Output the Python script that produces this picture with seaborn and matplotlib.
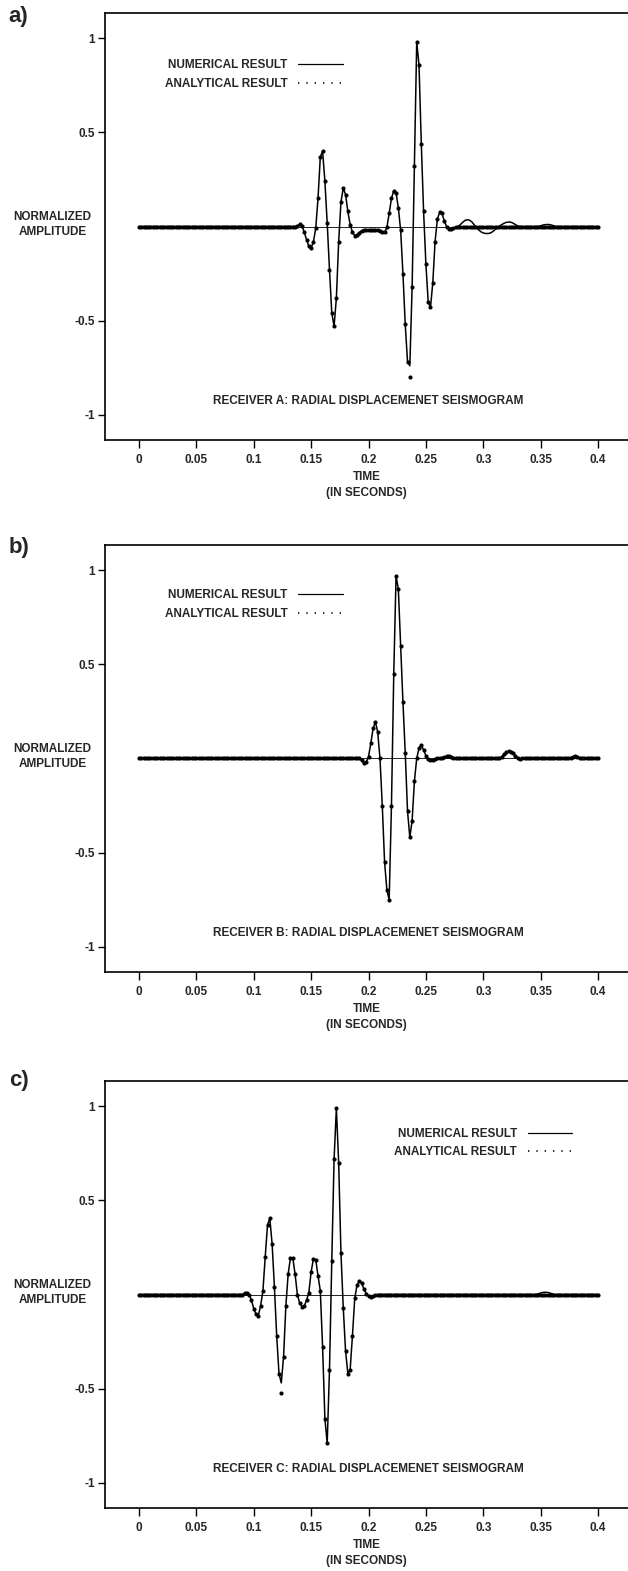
import numpy as np
import seaborn as sns
import matplotlib.pyplot as plt
from matplotlib.lines import Line2D

# sampling instants of the seismograms, seconds
time_s = np.round(np.arange(0, 0.4001, 0.002), 3)

# receiver A, normalized amplitude (t = 0.136 ... 0.278)
wave_a = [0.0, 0.003, 0.012, 0.005, -0.03, -0.07, -0.105, -0.115, -0.08, -0.01,
          0.15, 0.37, 0.40, 0.24, 0.02, -0.23, -0.46, -0.53, -0.38, -0.08,
          0.13, 0.205, 0.17, 0.08, 0.01, -0.03, -0.048, -0.045, -0.032, -0.022,
          -0.02, -0.02, -0.02, -0.02, -0.02, -0.02, -0.02, -0.022, -0.028, -0.03,
          -0.005, 0.07, 0.15, 0.19, 0.18, 0.10, -0.02, -0.25, -0.52, -0.72,
          -0.74, -0.32, 0.32, 0.98, 0.86, 0.44, 0.08, -0.20, -0.40, -0.43,
          -0.30, -0.08, 0.04, 0.075, 0.07, 0.03, 0.0, -0.012, -0.015, -0.01,
          -0.005, 0.0]
# numerical coda (t = 0.280 ... 0.400)
coda_a = ([0.01, 0.022, 0.032, 0.036, 0.034, 0.025, 0.01, -0.005, -0.018, -0.028,
           -0.034, -0.037, -0.037, -0.035, -0.028, -0.018, -0.008, 0.002, 0.01, 0.017,
           0.022, 0.024, 0.023, 0.018, 0.01, 0.003, 0.0]
          + [0.0] * 8
          + [0.004, 0.008, 0.01, 0.011, 0.01, 0.007, 0.003]
          + [0.0] * 19)
num_a = [0.0] * 68 + wave_a + coda_a
ana_a = [0.0] * 68 + wave_a + [0.0] * 61
off_t_a = [0.236]
off_amp_a = [-0.80]

# receiver B (t = 0.192 ... 0.260)
wave_b = [0.0, -0.01, -0.025, -0.02, 0.01, 0.08, 0.16, 0.195, 0.14, 0.0,
          -0.25, -0.55, -0.70, -0.75, -0.25, 0.45, 0.97, 0.90, 0.60, 0.30,
          0.03, -0.28, -0.42, -0.33, -0.12, 0.0, 0.055, 0.072, 0.045, 0.015,
          -0.005, -0.01, -0.008, -0.004, 0.0]
coda_b = ([0.0, 0.003, 0.007, 0.011, 0.012, 0.01, 0.005, 0.0]
          + [0.0] * 19
          + [0.01, 0.022, 0.033, 0.038, 0.036, 0.028, 0.015, 0.004, -0.002, 0.0]
          + [0.0] * 20
          + [0.005, 0.01, 0.012, 0.01, 0.005]
          + [0.0] * 8)
num_b = [0.0] * 96 + wave_b + coda_b
ana_b = [0.0] * 96 + wave_b + coda_b
off_t_b = []
off_amp_b = []

# receiver C (t = 0.090 ... 0.208)
wave_c = [0.0, 0.006, 0.01, 0.0, -0.03, -0.075, -0.105, -0.112, -0.06, 0.02,
          0.20, 0.37, 0.405, 0.27, 0.04, -0.22, -0.42, -0.47, -0.33, -0.06,
          0.11, 0.195, 0.195, 0.11, 0.0, -0.045, -0.064, -0.062, -0.03, 0.01,
          0.12, 0.19, 0.185, 0.10, 0.02, -0.28, -0.66, -0.79, -0.40, 0.18,
          0.72, 0.99, 0.70, 0.22, -0.07, -0.30, -0.42, -0.40, -0.22, -0.02,
          0.05, 0.072, 0.06, 0.03, 0.005, -0.01, -0.012, -0.01, -0.005, 0.0]
coda_c = [0.0] * 69 + [0.004, 0.008, 0.011, 0.012, 0.011, 0.008, 0.004] + [0.0] * 20
num_c = [0.0] * 45 + wave_c + coda_c
ana_c = [0.0] * 45 + wave_c + [0.0] * 96
off_t_c = [0.124]
off_amp_c = [-0.525]

x_ticks = [0, 0.05, 0.1, 0.15, 0.2, 0.25, 0.3, 0.35, 0.4]
x_tick_labels = ['0', '0.05', '0.1', '0.15', '0.2', '0.25', '0.3', '0.35', '0.4']
y_ticks = [-1, -0.5, 0.5, 1]
y_tick_labels = ['-1', '-0.5', '0.5', '1']

sns.set_style('ticks')
plt.rcParams['font.family'] = ['Liberation Sans', 'DejaVu Sans']
plt.rcParams['font.weight'] = 'bold'

fig = plt.figure(figsize=(6.28, 15.71), dpi=100)

panels = [
    ('a)', 'A', num_a, ana_a, off_t_a, off_amp_a, 0.7199, (0.114, 0.892), 0.996),
    ('b)', 'B', num_b, ana_b, off_t_b, off_amp_b, 0.3813, (0.114, 0.896), 0.658),
    ('c)', 'C', num_c, ana_c, off_t_c, off_amp_c, 0.0401, (0.553, 0.890), 0.319),
]

for tag, rec, num, ana, off_t, off_amp, bottom, leg_pos, tag_y in panels:
    ax = fig.add_axes([0.1672, bottom, 0.8328, 0.2718])
    assert len(num) == len(time_s) and len(ana) == len(time_s)

    ana = np.array(ana)
    for t, v in zip(off_t, off_amp):
        ana[np.isclose(time_s, t)] = v

    ax.hlines(0, time_s[0], time_s[-1], color='black', linewidth=0.6)
    sns.lineplot(x=time_s, y=num, color='black', linewidth=1.1,
                 estimator=None, sort=False, ax=ax)
    sns.scatterplot(x=time_s, y=ana, color='black', s=9, linewidth=0, ax=ax)

    ax.set_xlim(-0.0296, 0.4261)
    ax.set_ylim(-1.135, 1.135)
    ax.set_xticks(x_ticks)
    ax.set_xticklabels(x_tick_labels)
    ax.set_yticks(y_ticks)
    ax.set_yticklabels(y_tick_labels)
    ax.tick_params(axis='both', direction='out', color='black', width=1, labelsize=8.5)
    ax.tick_params(axis='x', length=6, pad=4)
    ax.tick_params(axis='y', length=5, pad=2)
    for side in ['left', 'top', 'bottom']:
        ax.spines[side].set_color('black')
        ax.spines[side].set_linewidth(1.2)
    ax.spines['right'].set_visible(False)

    ax.set_xlabel('TIME\n(IN SECONDS)', fontsize=8.5, fontweight='bold',
                  labelpad=4, linespacing=1.35)
    ax.set_ylabel('')
    ax.text(-0.10, 0.01, 'NORMALIZED\nAMPLITUDE', transform=ax.get_yaxis_transform(),
            ha='center', va='center', fontsize=8.5, fontweight='bold', linespacing=1.4)
    ax.text(0.2, -0.93, f'RECEIVER {rec}: RADIAL DISPLACEMENET SEISMOGRAM',
            ha='center', va='center', fontsize=8.5, fontweight='bold')

    handles = [Line2D([], [], color='black', linewidth=0.9),
               Line2D([], [], color='black', linewidth=1.2, linestyle=(0, (0.8, 4.2)))]
    ax.legend(handles, ['NUMERICAL RESULT', 'ANALYTICAL RESULT'], loc='upper left',
              bbox_to_anchor=leg_pos, frameon=False, markerfirst=False,
              handlelength=3.8, handletextpad=0.9, borderaxespad=0, borderpad=0,
              labelspacing=0.55, prop={'size': 8.5, 'weight': 'bold'})

    fig.text(0.014, tag_y, tag, fontsize=16, fontweight='bold', va='top')

fig.savefig('out.png', dpi=100)
